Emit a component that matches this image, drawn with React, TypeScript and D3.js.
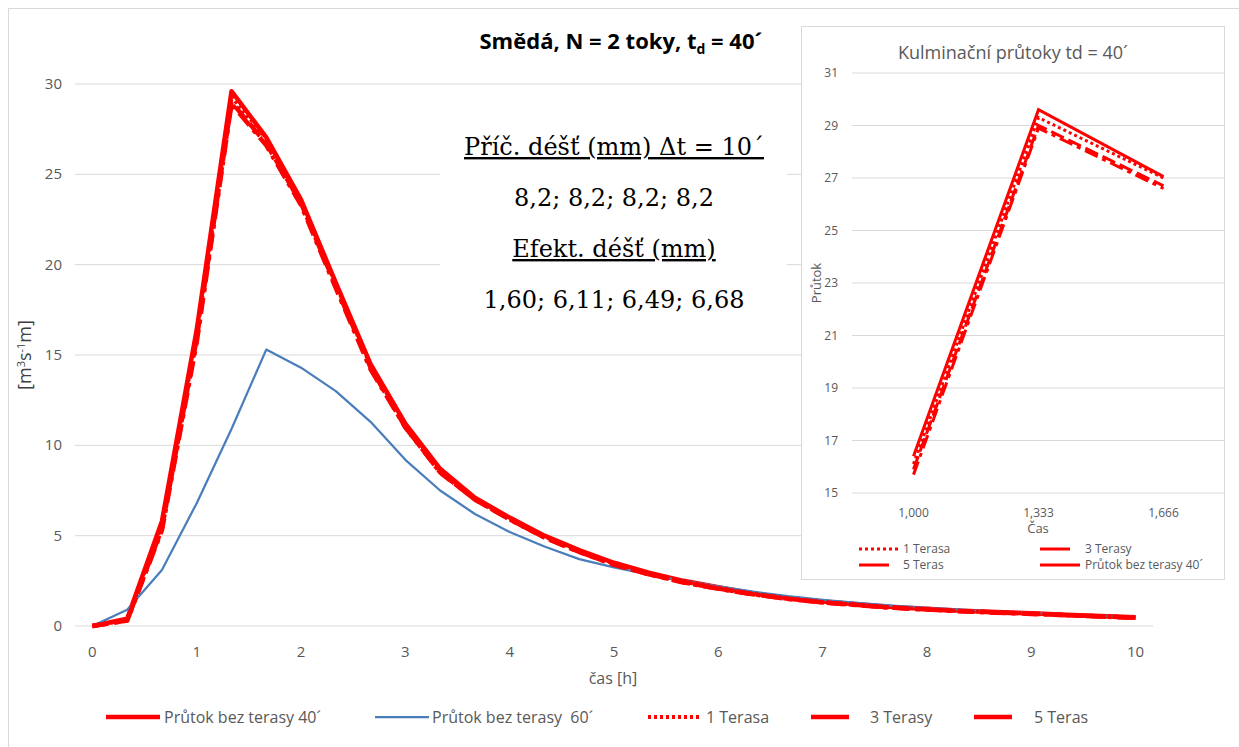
import React, { useEffect, useRef } from 'react'
import * as d3 from 'd3'

// time step is 20 min -> 31 categories, labelled every hour
const hourLabels = ['0', '1', '2', '3', '4', '5', '6', '7', '8', '9', '10']

const bez40 = [0, 0.4, 5.8, 16.4, 29.6, 27.05, 23.6, 19.0, 14.5, 11.2, 8.7, 7.1, 6.0, 5.0, 4.2, 3.5, 2.95, 2.5, 2.15, 1.8, 1.55, 1.35, 1.2, 1.05, 0.95, 0.85, 0.77, 0.7, 0.62, 0.55, 0.48]
const bez60 = [0, 0.9, 3.1, 6.8, 10.9, 15.3, 14.3, 13.0, 11.3, 9.2, 7.5, 6.2, 5.2, 4.4, 3.7, 3.25, 2.85, 2.5, 2.2, 1.9, 1.65, 1.45, 1.28, 1.13, 1.0, 0.9, 0.8, 0.72, 0.64, 0.57, 0.5]
const terasa1 = [0, 0.35, 5.6, 16.1, 29.3, 27.0, 23.5, 18.9, 14.4, 11.1, 8.6, 7.05, 5.95, 4.95, 4.15, 3.45, 2.9, 2.45, 2.1, 1.78, 1.53, 1.33, 1.18, 1.03, 0.93, 0.83, 0.76, 0.69, 0.61, 0.54, 0.47]
const terasy3 = [0, 0.3, 5.4, 15.9, 29.0, 26.7, 23.4, 18.8, 14.3, 11.0, 8.5, 7.0, 5.9, 4.9, 4.1, 3.4, 2.87, 2.42, 2.07, 1.76, 1.51, 1.31, 1.16, 1.02, 0.92, 0.82, 0.75, 0.68, 0.6, 0.53, 0.46]
const teras5 = [0, 0.3, 5.3, 15.7, 28.9, 26.6, 23.3, 18.7, 14.2, 11.0, 8.5, 7.0, 5.9, 4.9, 4.1, 3.4, 2.86, 2.41, 2.06, 1.75, 1.5, 1.3, 1.15, 1.01, 0.91, 0.81, 0.74, 0.67, 0.59, 0.52, 0.45]

const yTicks = [0, 5, 10, 15, 20, 25, 30]

// inset: culmination around the peak
const insetCats = ['1,000', '1,333', '1,666']
const insetStart = 3
const insetTicks = [15, 17, 19, 21, 23, 25, 27, 29, 31]

const textLines = ['Příč. déšť (mm) Δt = 10´', '8,2; 8,2; 8,2; 8,2', 'Efekt. déšť (mm)', '1,60; 6,11; 6,49; 6,68']

const RED = '#ff0000'
const BLUE = '#4a7ebb'
const GRID = '#d9d9d9'
const LABEL = '#595959'

const mainSeries = [
  { name: 'Průtok bez terasy 40´', values: bez40, color: RED, width: 4.5, dash: null },
  { name: 'Průtok bez terasy  60´', values: bez60, color: BLUE, width: 2.25, dash: null },
  { name: '1 Terasa', values: terasa1, color: RED, width: 4, dash: '3 3' },
  { name: '3 Terasy', values: terasy3, color: RED, width: 4.5, dash: '16 6' },
  { name: '5 Teras', values: teras5, color: RED, width: 4.5, dash: '16 6 4 6' },
]

const insetSeries = [
  { name: '1 Terasa', values: terasa1, dash: '3 3' },
  { name: '3 Terasy', values: terasy3, dash: '14 5' },
  { name: '5 Teras', values: teras5, dash: '14 5 4 5' },
  { name: 'Průtok bez terasy 40´', values: bez40, dash: null },
]

export default function App() {
  const ref = useRef<SVGSVGElement>(null)

  useEffect(() => {
    const svg = d3.select(ref.current)
    svg.selectAll('*').remove()

    // outer frame (cut off on the right and bottom in the picture)
    svg.append('rect')
      .attr('x', 8.5).attr('y', 8.5)
      .attr('width', 1260).attr('height', 760)
      .attr('fill', 'white').attr('stroke', GRID)

    // ---------- main chart ----------
    const n = bez40.length
    const x = d3.scaleBand<number>().domain(d3.range(n)).range([75, 1153])
    const cx = (i: number) => (x(i) as number) + x.bandwidth() / 2
    const y = d3.scaleLinear().domain([0, 30]).range([626, 84])

    const g = svg.append('g')

    g.selectAll('.grid')
      .data(yTicks)
      .enter()
      .append('line')
      .attr('x1', 75).attr('x2', 1153)
      .attr('y1', d => y(d)).attr('y2', d => y(d))
      .attr('stroke', GRID).attr('stroke-width', 1)

    g.selectAll('.ylab')
      .data(yTicks)
      .enter()
      .append('text')
      .attr('x', 62).attr('y', d => y(d) + 5)
      .attr('text-anchor', 'end')
      .attr('font-family', 'Open Sans')
      .attr('font-size', 15)
      .attr('fill', LABEL)
      .text(d => d)

    g.selectAll('.xlab')
      .data(hourLabels)
      .enter()
      .append('text')
      .attr('x', (d, i) => cx(i * 3)).attr('y', 657)
      .attr('text-anchor', 'middle')
      .attr('font-family', 'Open Sans')
      .attr('font-size', 15)
      .attr('fill', LABEL)
      .text(d => d)

    g.append('text')
      .attr('x', 613).attr('y', 684)
      .attr('text-anchor', 'middle')
      .attr('font-family', 'Open Sans')
      .attr('font-size', 16)
      .attr('fill', LABEL)
      .text('čas [h]')

    const yTitle = g.append('text')
      .attr('transform', 'translate(31,355) rotate(-90)')
      .attr('text-anchor', 'middle')
      .attr('font-family', 'Liberation Sans Narrow, Open Sans')
      .attr('font-size', 18)
      .attr('fill', '#404040')
    yTitle.append('tspan').text('[m')
    yTitle.append('tspan').attr('font-size', 11).attr('dy', -6).text('3')
    yTitle.append('tspan').attr('dy', 6).text('s')
    yTitle.append('tspan').attr('font-size', 11).attr('dy', -6).text('-1')
    yTitle.append('tspan').attr('dy', 6).text('m]')

    const line = d3.line<number>()
      .x((d, i) => cx(i))
      .y(d => y(d))

    mainSeries.forEach(s => {
      g.append('path')
        .datum(s.values)
        .attr('d', line)
        .attr('fill', 'none')
        .attr('stroke', s.color)
        .attr('stroke-width', s.width)
        .attr('stroke-linejoin', 'round')
        .attr('stroke-dasharray', s.dash)
    })

    // title
    const title = svg.append('text')
      .attr('x', 621).attr('y', 49)
      .attr('text-anchor', 'middle')
      .attr('font-family', 'Open Sans')
      .attr('font-weight', 'bold')
      .attr('font-size', 22)
      .attr('fill', '#000')
    title.append('tspan').text('Smědá, N = 2 toky, t')
    title.append('tspan').attr('font-size', 14).attr('dy', 5).text('d')
    title.append('tspan').attr('dy', -5).text(' = 40´')

    // rain text box
    svg.append('rect')
      .attr('x', 440).attr('y', 105)
      .attr('width', 347).attr('height', 220)
      .attr('fill', 'white')

    svg.selectAll('.rain')
      .data(textLines)
      .enter()
      .append('text')
      .attr('x', 614).attr('y', (d, i) => 155 + i * 51)
      .attr('text-anchor', 'middle')
      .attr('font-family', 'DejaVu Serif')
      .attr('font-size', 24)
      .attr('fill', '#000')
      .attr('text-decoration', (d, i) => (i % 2 === 0 ? 'underline' : null))
      .text(d => d)

    // legend
    const legX = [106, 375, 648, 811, 974]
    const legText = [164, 432, 706, 870, 1034]
    const leg = svg.append('g')
      .attr('font-family', 'Liberation Sans Narrow, Open Sans')
      .attr('font-size', 16)
      .attr('fill', LABEL)
    mainSeries.forEach((s, i) => {
      leg.append('line')
        .attr('x1', legX[i]).attr('x2', legX[i] + (i >= 3 ? 38 : 54))
        .attr('y1', 717).attr('y2', 717)
        .attr('stroke', s.color)
        .attr('stroke-width', s.width)
        .attr('stroke-dasharray', i === 2 ? '3 3' : null)
      leg.append('text')
        .attr('x', legText[i]).attr('y', 723)
        .attr('xml:space', 'preserve')
        .style('white-space', 'pre')
        .text(s.name)
    })

    // ---------- inset ----------
    const ins = svg.append('g')
    ins.append('rect')
      .attr('x', 801.5).attr('y', 26.5)
      .attr('width', 423).attr('height', 553)
      .attr('fill', 'white').attr('stroke', GRID)

    ins.append('text')
      .attr('x', 1013).attr('y', 59)
      .attr('text-anchor', 'middle')
      .attr('font-family', 'Open Sans')
      .attr('font-size', 18)
      .attr('fill', LABEL)
      .text('Kulminační průtoky td = 40´')

    const ix = d3.scaleBand<string>().domain(insetCats).range([851, 1226])
    const icx = (i: number) => (ix(insetCats[i]) as number) + ix.bandwidth() / 2
    const iy = d3.scaleLinear().domain([15, 31]).range([493, 73])

    ins.selectAll('.igrid')
      .data(insetTicks)
      .enter()
      .append('line')
      .attr('x1', 852).attr('x2', 1224)
      .attr('y1', d => iy(d)).attr('y2', d => iy(d))
      .attr('stroke', GRID)

    ins.selectAll('.iylab')
      .data(insetTicks)
      .enter()
      .append('text')
      .attr('x', 838).attr('y', d => iy(d) + 4)
      .attr('text-anchor', 'end')
      .attr('font-family', 'Open Sans')
      .attr('font-size', 12)
      .attr('fill', LABEL)
      .text(d => d)

    ins.selectAll('.ixlab')
      .data(insetCats)
      .enter()
      .append('text')
      .attr('x', (d, i) => icx(i)).attr('y', 517)
      .attr('text-anchor', 'middle')
      .attr('font-family', 'Open Sans')
      .attr('font-size', 12)
      .attr('fill', LABEL)
      .text(d => d)

    ins.append('text')
      .attr('x', 1038).attr('y', 533)
      .attr('text-anchor', 'middle')
      .attr('font-family', 'Open Sans')
      .attr('font-size', 13)
      .attr('fill', LABEL)
      .text('Čas')

    ins.append('text')
      .attr('transform', 'translate(821,283) rotate(-90)')
      .attr('text-anchor', 'middle')
      .attr('font-family', 'Open Sans')
      .attr('font-size', 13)
      .attr('fill', LABEL)
      .text('Průtok')

    const iline = d3.line<number>()
      .x((d, i) => icx(i))
      .y(d => iy(d))

    insetSeries.forEach(s => {
      ins.append('path')
        .datum(s.values.slice(insetStart, insetStart + insetCats.length))
        .attr('d', iline)
        .attr('fill', 'none')
        .attr('stroke', RED)
        .attr('stroke-width', 3)
        .attr('stroke-dasharray', s.dash)
    })

    const ilegX = [859, 1040, 859, 1040]
    const ilegY = [549, 549, 565, 565]
    insetSeries.forEach((s, i) => {
      ins.append('line')
        .attr('x1', ilegX[i]).attr('x2', ilegX[i] + (i === 0 || i === 3 ? 40 : 30))
        .attr('y1', ilegY[i]).attr('y2', ilegY[i])
        .attr('stroke', RED)
        .attr('stroke-width', 3)
        .attr('stroke-dasharray', i === 0 ? '3 3' : null)
      ins.append('text')
        .attr('x', i === 0 || i === 2 ? 903 : 1085).attr('y', ilegY[i] + 4)
        .attr('font-family', 'Open Sans')
        .attr('font-size', 12)
        .attr('fill', LABEL)
        .text(s.name)
    })
  }, [])

  return (
    <div style={{ position: 'absolute', left: 0, top: 0 }}>
      <svg ref={ref} width={1239} height={747} style={{ display: 'block' }} />
    </div>
  )
}
